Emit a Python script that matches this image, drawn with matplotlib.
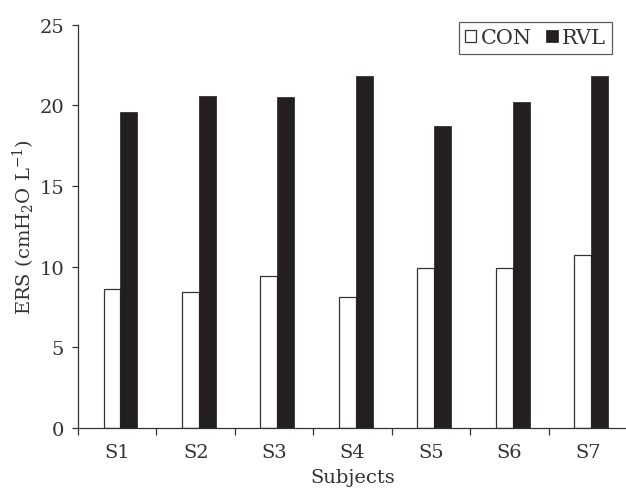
import matplotlib
matplotlib.use("Agg")
import matplotlib.pyplot as plt
import numpy as np

subjects = ["S1", "S2", "S3", "S4", "S5", "S6", "S7"]
con = [8.6, 8.4, 9.4, 8.1, 9.9, 9.9, 10.7]
rvl = [19.6, 20.6, 20.5, 21.8, 18.7, 20.2, 21.8]

plt.rcParams['font.family'] = ['DejaVu Serif']
plt.rcParams['mathtext.default'] = 'regular'
tc = '#333333'

fig = plt.figure(figsize=(6.26, 4.89), dpi=100)
ax = fig.add_axes([78/626, 60/489, 1 - 78/626 + 0.002, (429 - 25.7)/489])

x = np.arange(len(subjects))
w = 0.215
off = 0.04
ax.bar(x - w/2 + off, con, width=w, color='white', edgecolor='#333333', linewidth=0.9, label='CON')
ax.bar(x + w/2 + off, rvl, width=w, color='#231f20', edgecolor='#231f20', linewidth=0.5, label='RVL')

ax.set_xlim(-0.5, len(subjects) - 0.5)
ax.set_ylim(0, 25)
ax.set_yticks([0, 5, 10, 15, 20, 25])
ax.set_xticks(np.arange(-0.5, len(subjects) - 0.5, 1.0), minor=False)
ax.set_xticklabels([])
ax.set_xticks(x, minor=True)
ax.set_xticklabels(subjects, minor=True)
ax.tick_params(axis='x', which='major', length=5, direction='out', color=tc, width=0.9)
ax.tick_params(axis='x', which='minor', length=0, pad=11, labelsize=14, labelcolor=tc)
ax.tick_params(axis='y', length=4, direction='out', color=tc, width=0.9, labelsize=14, labelcolor=tc, pad=6)

for s in ['top', 'right']:
    ax.spines[s].set_visible(False)
for s in ['left', 'bottom']:
    ax.spines[s].set_color(tc)
    ax.spines[s].set_linewidth(0.9)

ax.set_ylabel('ERS (cmH$_2$O L$^{-1}$)', fontsize=14, color=tc, labelpad=2)
ax.set_xlabel('Subjects', fontsize=14, color=tc, labelpad=5)

leg = ax.legend(loc='upper right', bbox_to_anchor=(612/626, 1 - 23/489), bbox_transform=fig.transFigure,
                ncol=2, fontsize=15, frameon=True, fancybox=False, handlelength=0.55, handleheight=0.55,
                handletextpad=0.2, columnspacing=0.7, borderpad=0.3, borderaxespad=0)
leg.get_frame().set_edgecolor(tc)
leg.get_frame().set_linewidth(0.9)
for t in leg.get_texts():
    t.set_color(tc)

fig.savefig('out.png', dpi=100)
